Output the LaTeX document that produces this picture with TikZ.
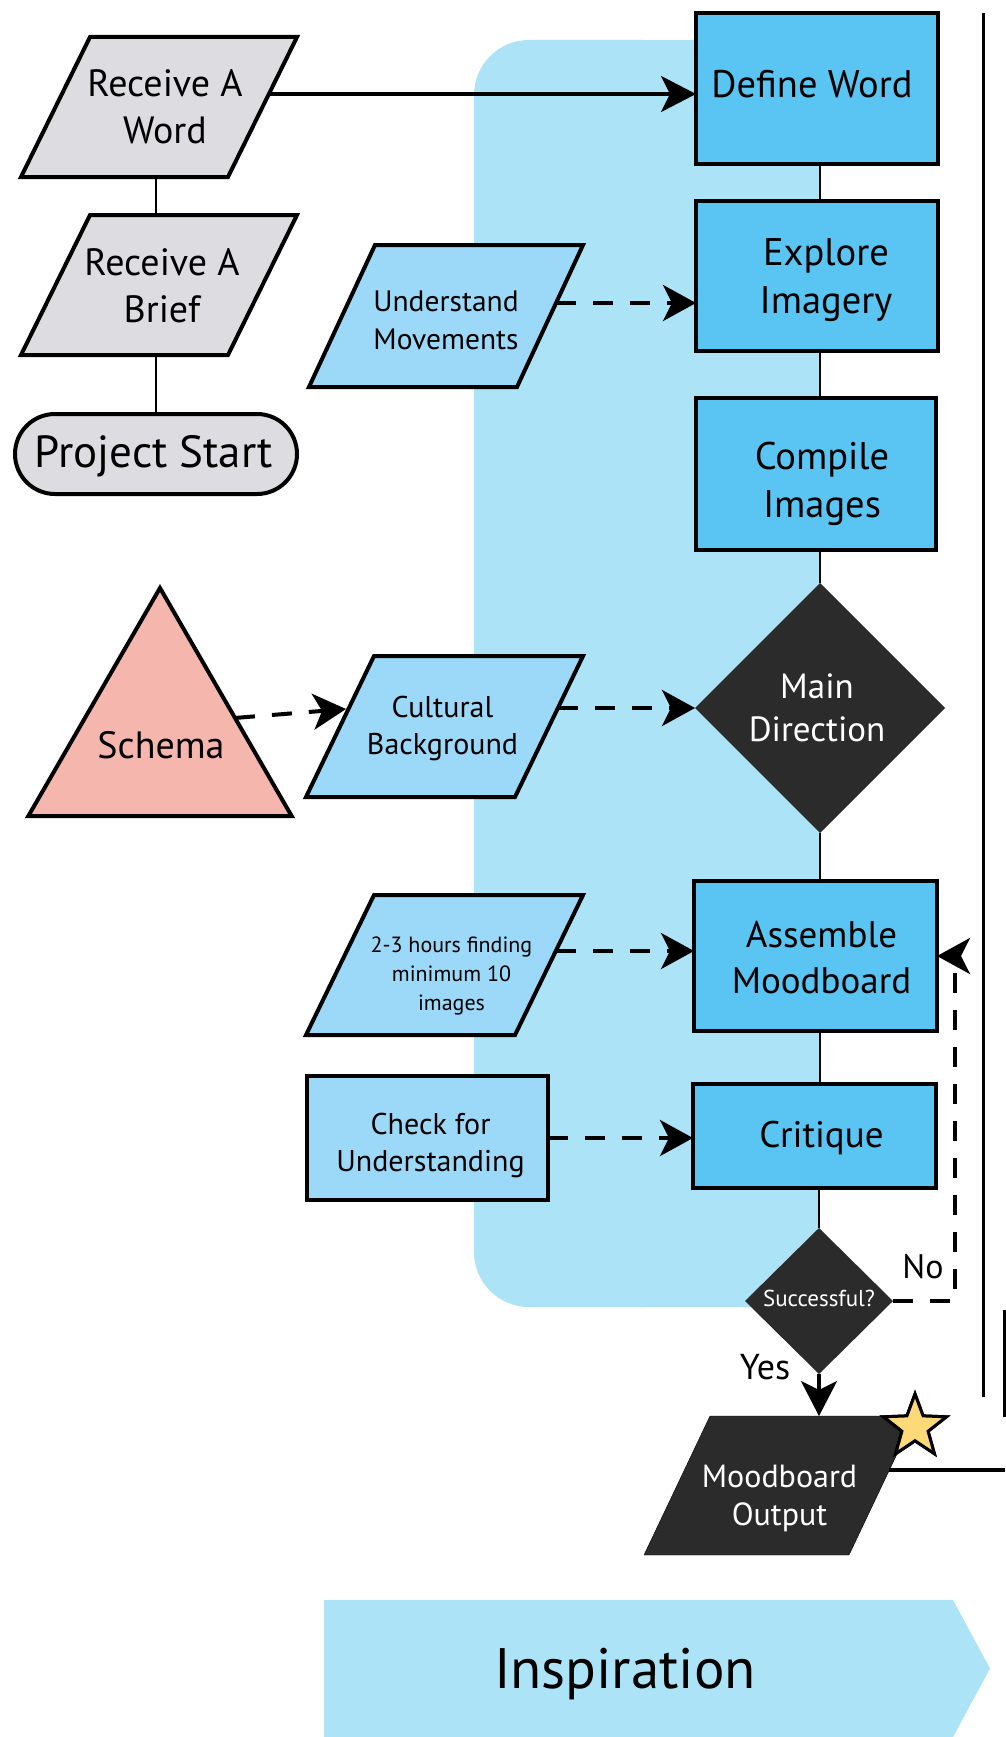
\documentclass[tikz,border=0pt]{standalone}
\usepackage{fontspec}
\setmainfont{PT Sans}
\usetikzlibrary{shapes.geometric,arrows.meta,calc}

\definecolor{regionblue}{HTML}{ACE3F6}
\definecolor{stepblue}{HTML}{5AC5F2}
\definecolor{inputblue}{HTML}{9CD9F8}
\definecolor{startgray}{HTML}{DDDDE1}
\definecolor{darkstep}{HTML}{2B2B2B}
\definecolor{schemapink}{HTML}{F4B6AD}
\definecolor{staryellow}{HTML}{FDD978}

\newcommand\fs[2]{\fontsize{#1}{#2}\selectfont}

% slanted box: name, x, y, width, height, half slant, frame style
\newcommand\slanted[7]{%
  \filldraw[#7] (#2+#6-#4/2, #3-#5/2) -- (#2+#6+#4/2, #3-#5/2)
    -- (#2-#6+#4/2, #3+#5/2) -- (#2-#6-#4/2, #3+#5/2) -- cycle;
  \node[minimum width=#4pt, minimum height=#5pt] (#1) at (#2,#3) {};
}
% text placed on a shape: name, shape, dx, dy, options, text
\newcommand\boxtext[6]{%
  \node[align=center, #5] (#1) at ([shift={(#3,#4)}]#2.center) {#6};
}

\begin{document}
\begin{tikzpicture}[x=1pt,y=-1pt,
  every node/.style={inner sep=0pt, outer sep=0pt},
  stepbox/.style={draw=black, line width=4.2pt, fill=stepblue},
  inbox/.style={draw=black, line width=4.2pt, fill=inputblue},
  decision/.style={diamond, fill=darkstep},
  grayframe/.style={draw=black, line width=4pt, fill=startgray},
  inframe/.style={draw=black, line width=4pt, fill=inputblue},
  darkframe/.style={fill=darkstep},
  link/.style={line width=2.4pt},
  rule/.style={line width=3pt},
  arr/.style={line width=3.5pt, -{Stealth[length=35pt,width=36pt,inset=9pt]}},
  dasharr/.style={line width=4pt, dash pattern=on 20pt off 17pt,
    -{Stealth[length=33pt,width=36pt,inset=9pt]}},
  award/.style={star, star points=5, star point ratio=2.4, minimum size=66pt,
    draw=black, line width=3pt, fill=staryellow},
]
\useasboundingbox (0,0) rectangle (1005,1737);
\fill[white] (0,0) rectangle (1005,1737);

% phase band behind the main column
\fill[regionblue] (650,40) rectangle (820,1307);
\fill[regionblue, rounded corners=55pt] (474,40) rectangle (700,1307);

% phase label
\fill[regionblue] (324,1600) -- (953,1600) -- (990,1668.5) -- (953,1737) -- (324,1737) -- cycle;
\node[font=\fs{57}{60}] (insp) at (625,1674) {Inspiration};

% project start column
\slanted{rw}{159}{107}{207}{140}{34.5}{grayframe}
\boxtext{rwt}{rw}{6}{0}{font=\fs{38}{47}}{Receive A\\Word}
\slanted{rb}{159}{285}{207}{140}{34.5}{grayframe}
\boxtext{rbt}{rb}{3}{1}{font=\fs{38}{47}}{Receive A\\Brief}
\node[draw=black, line width=4pt, fill=startgray, rounded corners=40pt,
  minimum width=282pt, minimum height=80pt] (ps) at (156,454) {};
\boxtext{pst}{ps}{-2}{2}{font=\fs{45}{50}}{Project Start}
\draw[link] (rw.south -| ps.north) -- (rb.north -| ps.north);
\draw[link] (rb.south -| ps.north) -- (ps.north);

% main column
\node[stepbox, minimum width=242pt, minimum height=151pt] (dw) at (817,88.5) {};
\boxtext{dwt}{dw}{-5}{-4.5}{font=\fs{38.5}{48}}{Define Word}
\node[stepbox, minimum width=242pt, minimum height=150pt] (ei) at (817,276) {};
\boxtext{eit}{ei}{9}{4}{font=\fs{38.5}{48}}{Explore\\Imagery}
\node[stepbox, minimum width=240pt, minimum height=152pt] (ci) at (816,474) {};
\boxtext{cit}{ci}{6}{10}{font=\fs{38.5}{48}}{Compile\\Images}
\node[decision, minimum width=250pt, minimum height=250pt] (md) at (820,708) {};
\boxtext{mdt}{md}{-3}{0}{text=white, font=\fs{35}{43}}{Main\\Direction}
\node[stepbox, minimum width=243pt, minimum height=150pt] (am) at (815.5,956) {};
\boxtext{amt}{am}{6}{1.5}{font=\fs{37}{46}}{Assemble\\Moodboard}
\node[stepbox, minimum width=243pt, minimum height=104pt] (cr) at (814.5,1136) {};
\boxtext{crt}{cr}{7}{2}{font=\fs{37}{40}}{Critique}
\node[decision, minimum width=148pt, minimum height=146pt] (su) at (819,1301) {};
\boxtext{sut}{su}{0}{-3}{text=white, font=\fs{23}{26}}{Successful?}
\slanted{mo}{779.5}{1485.5}{205}{139}{33}{darkframe}
\boxtext{mot}{mo}{0}{13}{text=white, font=\fs{32}{38}}{Moodboard\\Output}
\node[award] (st) at (915,1427) {};

\draw[link] (dw.south -| md.north) -- (ei.north -| md.north);
\draw[link] (ei.south -| md.north) -- (ci.north -| md.north);
\draw[link] (ci.south -| md.north) -- (md.north);
\draw[link] (md.south) -- (am.north -| md.south);
\draw[link] (am.south -| md.south) -- (cr.north -| md.south);
\draw[link] (cr.south -| su.north) -- (su.north);

% inputs
\slanted{um}{446}{316}{208}{142}{33}{inframe}
\boxtext{umt}{um}{0}{4.5}{font=\fs{29.5}{38}}{Understand\\Movements}
\node[regular polygon, regular polygon sides=3, minimum size=304pt, draw=black,
  line width=4pt, fill=schemapink] (sc) at (160,740) {};
\node[font=\fs{38}{40}] (sct) at (161,745) {Schema};
\slanted{cb}{444.5}{726.5}{209}{141}{34}{inframe}
\boxtext{cbt}{cb}{-2}{2}{font=\fs{30}{37}}{Cultural\\Background}
\slanted{hr}{444.5}{965}{209}{140}{34}{inframe}
\boxtext{hrt}{hr}{7}{11}{font=\fs{22}{29}}{2-3 hours finding\\minimum 10\\images}
\node[inbox, minimum width=241pt, minimum height=124pt] (cu) at (427.5,1138) {};
\boxtext{cut}{cu}{3}{7}{font=\fs{30}{37}}{Check for\\Understanding}

% connectors
\coordinate (rwout) at ([shift={(6.4,-13)}]rw.east);
\draw[arr] (rwout) -- (rwout -| dw.west);
\coordinate (umout) at ([shift={(6,-13)}]um.east);
\draw[dasharr] (umout) -- (umout -| ei.west);
\coordinate (scout) at ($(sc.corner 1)!0.57!(sc.corner 3)$);
\coordinate (cbin) at ([shift={(6,-17.5)}]cb.west);
\draw[dasharr] (scout) -- (cbin);
\coordinate (cbout) at ([shift={(9,-18.5)}]cb.east);
\draw[dasharr] (cbout) -- (cbout -| md.west);
\coordinate (hrout) at ([shift={(7,-14)}]hr.east);
\draw[dasharr] (hrout) -- (hrout -| am.west);
\draw[dasharr] (cu.east) -- (cu.east -| cr.west);

\draw[arr] (su.south) -- (su.south |- mo.north);
\coordinate (nx) at (955,0);
\draw[dasharr] (su.east) -- (su.east -| nx) -- (nx |- am.east) -- (am.east);
\node[font=\fs{34}{36}] (nolab) at (923,1267) {No};
\node[font=\fs{36}{38}] (yeslab) at (765,1367) {Yes};

% rules on the right
\coordinate (r1a) at (983,13);
\coordinate (r1b) at (983,1397);
\draw[rule] (r1a) -- (r1b);
\coordinate (r2a) at (1004,1310);
\coordinate (r2b) at (1004,1417);
\draw[rule] (r2a) -- (r2b);
\coordinate (moout) at ([shift={(7.4,-15.5)}]mo.east);
\coordinate (edge) at (1005,0);
\draw[line width=3.3pt] (moout) -- (moout -| edge);
\node[award] at (st) {};
\end{tikzpicture}
\end{document}
